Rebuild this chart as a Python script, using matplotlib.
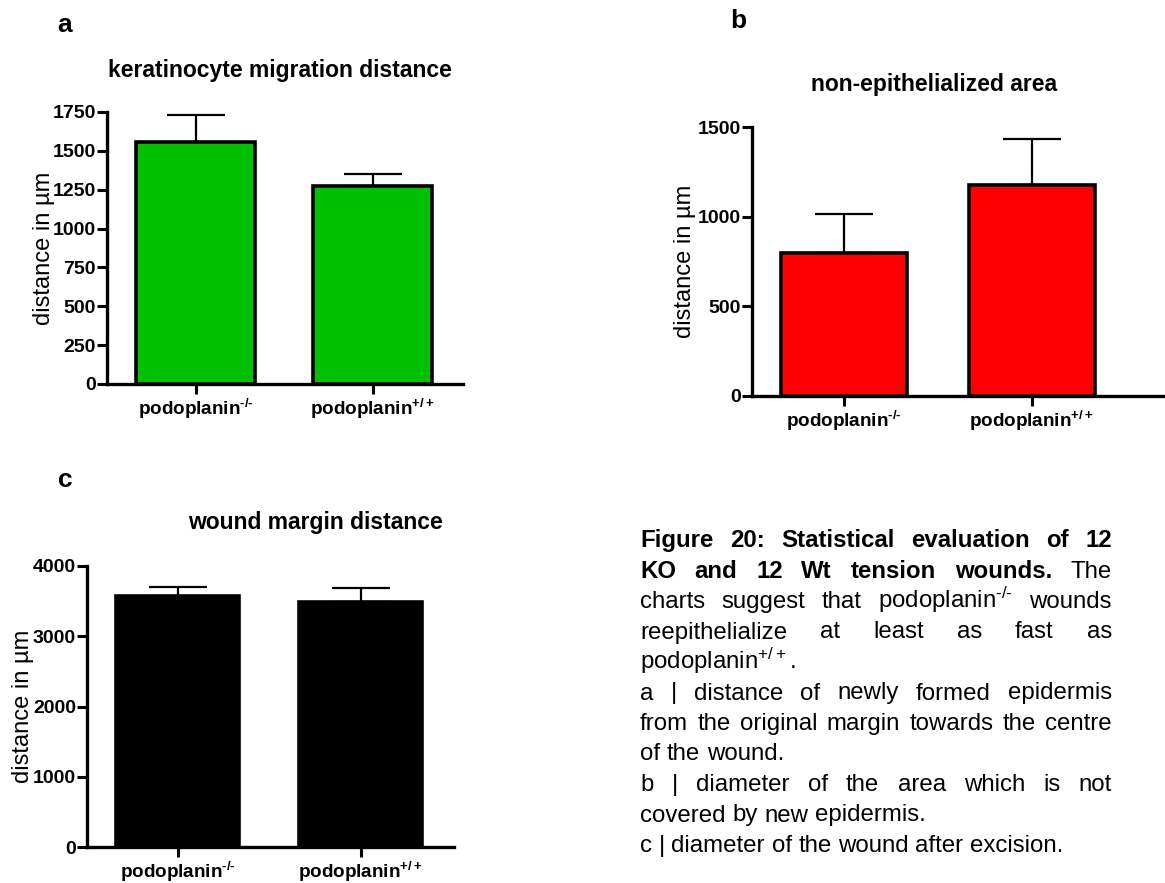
import numpy as np
import matplotlib
matplotlib.use("Agg")
import matplotlib.pyplot as plt

plt.rcParams['font.family'] = ['Liberation Sans', 'DejaVu Sans']
plt.rcParams['mathtext.fontset'] = 'custom'
plt.rcParams['mathtext.rm'] = 'Liberation Sans:bold'
plt.rcParams['mathtext.sf'] = 'Liberation Sans'
plt.rcParams['mathtext.default'] = 'rm'

# U+2010 hyphen, so mathtext does not turn it into a wide minus
groups = ['podoplanin$^{\u2010/\u2010}$', 'podoplanin$^{+/+}$']

# a: keratinocyte migration distance
mig_mean = [1557, 1274]
mig_err = [174, 75]
# b: non-epithelialized area
area_mean = [797, 1176]
area_err = [218, 257]
# c: wound margin distance
margin_mean = [3573, 3488]
margin_err = [128, 199]

W, H = 1165, 883
fig = plt.figure(figsize=(W / 100, H / 100), dpi=100)


def px_axes(left, right, bottom, top):
    return fig.add_axes([left / W, 1 - bottom / H, (right - left) / W, (bottom - top) / H])


def bar_panel(ax, means, errs, color, ymax, step, xlim, labelpad):
    x = np.arange(len(means))
    ax.errorbar(x, means, yerr=[np.zeros(len(errs)), errs], fmt='none',
                ecolor='black', elinewidth=1.6, capsize=21, capthick=1.6, zorder=1)
    ax.bar(x, means, width=0.67, color=color, edgecolor='black', linewidth=2.6, zorder=2)
    ax.set_xlim(*xlim)
    ax.set_ylim(0, ymax)
    ax.set_yticks(np.arange(0, ymax + 1, step))
    ax.set_xticks(x)
    ax.set_xticklabels(groups, fontsize=13.6, fontweight='bold')
    for lab in ax.get_yticklabels():
        lab.set_fontweight('bold')
    ax.tick_params(axis='y', labelsize=14, length=7, width=2.2, pad=1)
    ax.tick_params(axis='x', length=7, width=2.2, pad=2)
    for s in ['top', 'right']:
        ax.spines[s].set_visible(False)
    for s in ['left', 'bottom']:
        ax.spines[s].set_linewidth(2.4)
    ax.set_ylabel('distance in µm', fontsize=17, labelpad=labelpad)
    ax.patch.set_alpha(0)


ax_a = px_axes(107, 463, 384, 112)
bar_panel(ax_a, mig_mean, mig_err, '#00c000', 1750, 250, (-0.5, 1.51), -2)
ax_b = px_axes(752, 1165, 396, 127)
bar_panel(ax_b, area_mean, area_err, '#ff0000', 1500, 500, (-0.488, 1.71), 1.5)
ax_c = px_axes(87, 454, 847, 566)
bar_panel(ax_c, margin_mean, margin_err, '#000000', 4000, 1000, (-0.495, 1.51), -1)

fig.text(280 / W, 1 - 70 / H, 'keratinocyte migration distance', fontsize=16.5,
         fontweight='bold', ha='center', va='center')
fig.text(934 / W, 1 - 85 / H, 'non-epithelialized area', fontsize=16.5,
         fontweight='bold', ha='center', va='center')
fig.text(315 / W, 1 - 523 / H, 'wound margin distance', fontsize=16.5,
         fontweight='bold', ha='center', va='center')

for lab, (x, y) in zip(['a', 'b', 'c'], [(65, 25), (738, 21), (65, 480)]):
    fig.text(x / W, 1 - y / H, lab, fontsize=19, fontweight='bold', ha='center', va='center')

# caption, justified word by word
B, R = 'bold', 'normal'
sup_m = 'podoplanin$^{\\mathsf{\u2010/\u2010}}$'
sup_p = 'podoplanin$^{\\mathsf{+/+}}$.'
caption = [
    ([('Figure', B), ('20:', B), ('Statistical', B), ('evaluation', B), ('of', B), ('12', B)], True),
    ([('KO', B), ('and', B), ('12', B), ('Wt', B), ('tension', B), ('wounds.', B), ('The', R)], True),
    ([('charts', R), ('suggest', R), ('that', R), (sup_m, R), ('wounds', R)], True),
    ([('reepithelialize', R), ('at', R), ('least', R), ('as', R), ('fast', R), ('as', R)], True),
    ([(sup_p, R)], False),
    ([('a', R), ('|', R), ('distance', R), ('of', R), ('newly', R), ('formed', R), ('epidermis', R)], True),
    ([('from', R), ('the', R), ('original', R), ('margin', R), ('towards', R), ('the', R), ('centre', R)], True),
    ([('of', R), ('the', R), ('wound.', R)], False),
    ([('b', R), ('|', R), ('diameter', R), ('of', R), ('the', R), ('area', R), ('which', R), ('is', R), ('not', R)], True),
    ([('covered', R), ('by', R), ('new', R), ('epidermis.', R)], False),
    ([('c', R), ('|', R), ('diameter', R), ('of', R), ('the', R), ('wound', R), ('after', R), ('excision.', R)], False),
]
x0, x1 = 640, 1112
y0, dy = 547, 30.5
fs = 17.3
renderer = fig.canvas.get_renderer()
t1 = fig.text(0, 0, 'a a', fontsize=fs)
t2 = fig.text(0, 0, 'aa', fontsize=fs)
space = t1.get_window_extent(renderer).width - t2.get_window_extent(renderer).width
t1.remove()
t2.remove()
for i, (words, justify) in enumerate(caption):
    y = 1 - (y0 + i * dy) / H
    items = [fig.text(0, y, w, fontsize=fs, fontweight=wt, va='baseline', ha='left')
             for w, wt in words]
    widths = [t.get_window_extent(renderer).width for t in items]
    if justify and len(items) > 1:
        gap = (x1 - x0 - sum(widths)) / (len(items) - 1)
    else:
        gap = space
    x = x0
    for t, w in zip(items, widths):
        t.set_x(x / W)
        x += w + gap

fig.savefig('out.png', dpi=100)
